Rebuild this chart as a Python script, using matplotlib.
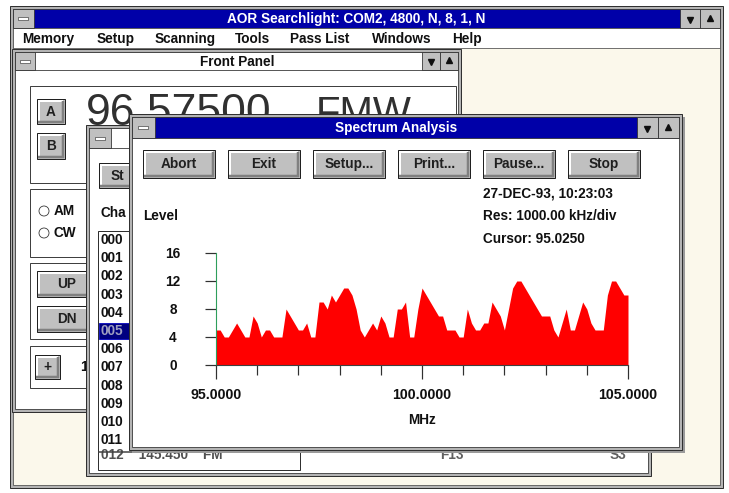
import numpy as np
import matplotlib
matplotlib.use('Agg')
import matplotlib.pyplot as plt
from matplotlib.patches import Rectangle, Circle, PathPatch
from matplotlib.path import Path

FONT = ['Liberation Sans', 'DejaVu Sans']
plt.rcParams['font.family'] = FONT

# ---------------- data ----------------
freq_start = 95.0
freq_step = 0.1
levels = [5, 5, 4, 4, 5, 6, 5, 4, 4, 7,
          6, 4, 5, 5, 4, 4, 4, 8, 7, 6,
          5, 5, 6, 4, 4, 9, 9, 8, 10, 9,
          10, 11, 11, 10, 8, 5, 4, 5, 6, 5,
          7, 6, 4, 4, 8, 8, 9, 4, 4, 8,
          11, 10, 9, 8, 7, 7, 5, 5, 5, 4,
          4, 8, 6, 5, 5, 6, 6, 9, 8, 7,
          5, 8, 11, 12, 12, 11, 10, 9, 8, 7,
          7, 7, 5, 4, 6, 8, 5, 5, 7, 9,
          8, 6, 5, 5, 5, 10, 12, 12, 11, 10,
          10]
freqs = [round(freq_start + i * freq_step, 1) for i in range(len(levels))]

y_ticks = [0, 4, 8, 12, 16]
y_tick_labels = ['0', '4', '8', '12', '16']
x_major = [95, 100, 105]
x_major_labels = ['95.0000', '100.0000', '105.0000']
x_minor = [95, 96, 97, 98, 99, 100, 101, 102, 103, 104, 105]

menu_items = ['Memory', 'Setup', 'Scanning', 'Tools', 'Pass List', 'Windows', 'Help']
buttons = ['Abort', 'Exit', 'Setup...', 'Print...', 'Pause...', 'Stop']
info_lines = ['27-DEC-93, 10:23:03', 'Res: 1000.00 kHz/div', 'Cursor: 95.0250']
channels = ['000', '001', '002', '003', '004', '005', '006', '007', '008', '009', '010', '011']

W, H = 729, 493
fig = plt.figure(figsize=(W / 100, H / 100), dpi=100)
fig.patch.set_facecolor('white')
bg = fig.add_axes([0, 0, 1, 1])
bg.set_xlim(0, W)
bg.set_ylim(H, 0)
bg.axis('off')
bg.set_zorder(0)

BLUE = '#0000A8'
GRAY = '#C0C0C0'
DARK = '#808080'
CREAM = '#FBF8EB'
PX = 0.72  # points per pixel
FS = 9.8


def rect(x0, y0, x1, y1, fc, ec='none', lw=0.0, z=1):
    bg.add_patch(Rectangle((x0, y0), x1 - x0, y1 - y0, facecolor=fc,
                           edgecolor=ec, linewidth=lw, zorder=z))


def hline(x0, x1, y, c, lw=1, z=1):
    bg.plot([x0, x1], [y, y], color=c, lw=lw * PX, zorder=z, solid_capstyle='butt')


def vline(x, y0, y1, c, lw=1, z=1):
    bg.plot([x, x], [y0, y1], color=c, lw=lw * PX, zorder=z, solid_capstyle='butt')


def txt(x, y, s, size=FS, c='#101010', ha='left', va='center', w='bold', z=1, **kw):
    return bg.text(x, y, s, fontsize=size, color=c, ha=ha, va=va, fontweight=w, zorder=z, **kw)


def clip_poly(artist, pts):
    p = PathPatch(Path(pts + [pts[0]], closed=True), transform=bg.transData,
                  facecolor='none', edgecolor='none')
    artist.set_clip_path(p)


def button(x0, y0, x1, y1, label, z, size=FS):
    rect(x0, y0, x1, y1, GRAY, ec='#202020', lw=1 * PX, z=z)
    hline(x0 + 1.5, x1 - 2, y0 + 2, 'white', 2, z + 0.01)
    vline(x0 + 2, y0 + 1.5, y1 - 2, 'white', 2, z + 0.01)
    hline(x0 + 1.5, x1 - 1, y1 - 2, DARK, 2.5, z + 0.01)
    vline(x1 - 2, y0 + 1.5, y1 - 1, DARK, 2.5, z + 0.01)
    if label:
        return txt((x0 + x1) / 2, (y0 + y1) / 2, label, size=size, ha='center',
                   c='#202020', z=z + 0.02)


def small_box(x0, y0, x1, y1, kind, z):
    rect(x0, y0, x1, y1, GRAY, ec='#303030', lw=0.8 * PX, z=z)
    cx, cy = (x0 + x1) / 2, (y0 + y1) / 2
    if kind == 'sys':
        rect(cx - 5, cy - 1.5, cx + 5, cy + 1.5, 'white', ec='#303030', lw=0.6 * PX, z=z + 0.01)
    elif kind == 'down':
        bg.plot([cx], [cy + 1], marker='v', ms=4, color='#101010', zorder=z + 0.01)
    elif kind == 'up':
        bg.plot([cx], [cy - 1], marker='^', ms=4, color='#101010', zorder=z + 0.01)


def window(x0, y0, x1, y1, z, title=None, active=False, ty1=None, tbx=None):
    rect(x0, y0, x1, y1, '#B4B4B4', ec='#303030', lw=1 * PX, z=z)
    rect(x0 + 3, y0 + 3, x1 - 3, y1 - 3, 'white', ec='#303030', lw=0.8 * PX, z=z + 0.01)
    tb_bottom = ty1
    rect(x0 + 3, y0 + 3, x1 - 3, tb_bottom, BLUE if active else 'white',
         ec='#303030', lw=0.8 * PX, z=z + 0.02)
    small_box(x0 + 3, y0 + 3, x0 + 3 + (tb_bottom - y0 - 3) + 2, tb_bottom, 'sys', z + 0.03)
    if tbx is not None:
        bw = tb_bottom - y0 - 3
        small_box(x1 - 3 - 2 * bw, y0 + 3, x1 - 3 - bw, tb_bottom, 'down', z + 0.03)
        small_box(x1 - 3 - bw, y0 + 3, x1 - 3, tb_bottom, 'up', z + 0.03)
    if title:
        txt(tbx if tbx else (x0 + x1) / 2, (y0 + 3 + tb_bottom) / 2 + 0.5, title, size=FS,
            c='white' if active else '#101010', ha='center', z=z + 0.04)


# ---------------- outer application window ----------------
rect(10, 6, 723, 488, '#B4B4B4', ec='#303030', lw=1 * PX, z=1)
rect(13, 28, 720, 485, CREAM, ec='#505050', lw=0.8 * PX, z=1.01)
rect(13, 9, 720, 28, BLUE, ec='#303030', lw=0.8 * PX, z=1.02)
small_box(13, 9, 34, 28, 'sys', 1.03)
small_box(680, 9, 700, 28, 'down', 1.03)
small_box(700, 9, 720, 28, 'up', 1.03)
txt(356, 18.5, 'AOR Searchlight: COM2, 4800, N, 8, 1, N', c='white', ha='center', z=1.04)
rect(13, 28, 720, 48, 'white', ec='#505050', lw=0.8 * PX, z=1.02)
menu_x = [22, 97, 155, 235, 290, 372, 452]
for mx, m in zip(menu_x, menu_items):
    txt(mx, 39, m, z=1.05)

# ---------------- Front Panel window ----------------
window(12, 49, 461, 412, 2, title='Front Panel', active=False, ty1=70, tbx=237)
rect(30, 86, 456, 183, 'white', ec='#404040', lw=1 * PX, z=2.1)
visible_fp = [(80, 80), (455, 80), (455, 114), (129, 114), (129, 125), (80, 125)]
t1 = bg.text(86, 125, '96.57500', fontsize=32, color='#303030', ha='left', va='baseline',
             zorder=2.2, fontweight='normal')
t2 = bg.text(316, 125, 'FMW', fontsize=29, color='#303030', ha='left', va='baseline',
             zorder=2.2, fontweight='normal')
clip_poly(t1, visible_fp)
clip_poly(t2, visible_fp)
button(37, 99, 65, 124, 'A', 2.3)
button(37, 133, 65, 159, 'B', 2.3)
rect(30, 189, 456, 257, 'white', ec='#404040', lw=1 * PX, z=2.1)
for cy, lab in [(211, 'AM'), (233, 'CW')]:
    bg.add_patch(Circle((44, cy), 5, facecolor='white', edgecolor='#303030', lw=0.8 * PX, zorder=2.3))
    t = txt(54, cy, lab, z=2.3)
    clip_poly(t, [(30, 180), (86, 180), (86, 260), (30, 260)])
rect(30, 263, 456, 339, 'white', ec='#404040', lw=1 * PX, z=2.1)
button(37, 271, 96, 297, 'UP', 2.3)
button(37, 306, 96, 332, 'DN', 2.3)
rect(30, 346, 456, 388, 'white', ec='#404040', lw=1 * PX, z=2.1)
button(35, 355, 60, 379, '+', 2.3)
txt(80, 367, '1', z=2.3)

# ---------------- channel list window ----------------
left_vis = [(86, 125), (129, 125), (129, 476), (86, 476)]
window(86, 125, 651, 476, 3, title=None, active=False, ty1=148)
rect(99, 163, 140, 188, GRAY, ec='#202020', lw=1 * PX, z=3.3)
hline(100.5, 138, 165, 'white', 2, 3.31)
vline(101, 164.5, 186, 'white', 2, 3.31)
hline(100.5, 139, 186, DARK, 2.5, 3.31)
txt(111, 175.5, 'St', c='#202020', z=3.32)
txt(101, 213, 'Cha', z=3.3)
rect(98, 231, 300, 470, 'white', ec='#303030', lw=1 * PX, z=3.2)
for i, ch in enumerate(channels):
    cy = 240 + 18.2 * i
    if ch == '005':
        rect(99, cy - 8, 134, cy + 8, '#000080', ec='#0000C0', lw=0.8 * PX, z=3.25)
        t = txt(101, cy, ch, c='#A0A0C0', z=3.3)
    else:
        t = txt(101, cy, ch, z=3.3)
hline(98, 640, 452, '#404040', 1.5, 3.35)
txt(101, 455, '012    145.450    FM', c='#505050', z=3.3)
txt(440, 455, 'F13', c='#606060', z=3.3)
txt(610, 455, 'S3', c='#606060', z=3.3)

# ---------------- Spectrum Analysis window ----------------
rect(132, 117, 685, 453, '#9A9A9A', z=3.9)  # shadow
window(129, 114, 682, 450, 4, title='Spectrum Analysis', active=True, ty1=138, tbx=396)
bx = [143, 228, 313, 398, 483, 568]
for x0, lab in zip(bx, buttons):
    button(x0, 150, x0 + 72, 178, lab, 4.3)
for i, line in enumerate(info_lines):
    txt(483, 193 + 23 * i, line, z=4.3)
txt(143, 216, 'Level', z=4.3)

# ---------------- spectrum chart ----------------
x_left, x_right, y_zero, y_top = 216, 628, 365, 253
ax = fig.add_axes([x_left / W, (H - y_zero) / H, (x_right - x_left) / W, (y_zero - y_top) / H])
ax.set_zorder(5)
ax.patch.set_alpha(0)
ax.fill_between(freqs, levels, color='#FF0000', lw=0)
ax.set_xlim(95, 105)
ax.set_ylim(0, 16)
for s in ['top', 'right']:
    ax.spines[s].set_visible(False)
ax.spines['left'].set_color('#2E9E5B')
ax.spines['left'].set_linewidth(0.8)
ax.spines['bottom'].set_color('#404040')
ax.spines['bottom'].set_linewidth(0.8)
ax.set_yticks(y_ticks)
ax.set_yticklabels(y_tick_labels)
ax.set_xticks(x_major)
ax.set_xticklabels(x_major_labels)
ax.set_xticks(x_minor, minor=True)
ax.tick_params(axis='y', length=11 * PX, width=1.2 * PX, color='#303030', pad=32 * PX,
               labelsize=FS, labelcolor='#101010')
for lab in ax.get_yticklabels():
    lab.set_horizontalalignment('center')
    lab.set_fontweight('bold')
ax.tick_params(axis='x', which='major', length=14 * PX, width=1.2 * PX, color='#303030',
               pad=9 * PX, labelsize=FS + 0.4, labelcolor='#101010')
ax.tick_params(axis='x', which='minor', length=10 * PX, width=1.2 * PX, color='#303030')
for lab in ax.get_xticklabels():
    lab.set_fontweight('bold')
ax.set_xlabel('MHz', fontsize=FS, fontweight='bold', color='#101010', labelpad=11 * PX)

fig.savefig('out.png', dpi=100, facecolor='white')
